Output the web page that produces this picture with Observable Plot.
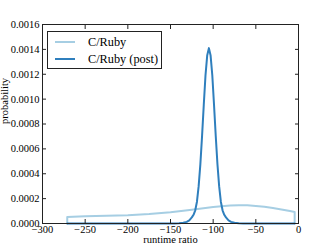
<!DOCTYPE html>
<html>
<head>
<meta charset="utf-8">
<script src="https://cdn.jsdelivr.net/npm/d3@7"></script>
<script src="https://cdn.jsdelivr.net/npm/@observablehq/plot@0.6"></script>
<style>
  html, body { margin: 0; padding: 0; background: #fff; }
  #wrap { position: relative; width: 332px; height: 249px; font-family: "Liberation Serif", "DejaVu Serif", serif; }
  #legend { position: absolute; left: 47px; top: 31px; width: 115px; height: 38px; border: 1px solid #222; background: #fff; box-sizing: border-box; font-size: 12.3px; color: #000; }
  .row { position: absolute; left: 0; height: 14px; display: flex; align-items: center; }
  .sw { position: absolute; left: 7px; width: 20px; height: 2px; }
  .lbl { position: absolute; left: 40px; white-space: nowrap; line-height: 14px; }
</style>
</head>
<body>
<div id="wrap"></div>
<script>
// Tick values
const xTicks = [-300, -250, -200, -150, -100, -50, 0];
const yTicks = [0, 0.0002, 0.0004, 0.0006, 0.0008, 0.0010, 0.0012, 0.0014, 0.0016];

// Series names
const seriesNames = ["C/Ruby", "C/Ruby (post)"];
const seriesColors = ["#a6cee3", "#2f7fbd"];

// C/Ruby (broad) curve
const lightX = [-271, -271, -250, -225, -200, -175, -150, -125, -100, -80, -70, -60, -50, -40, -30, -20, -10, -4.5, -4.5];
const lightY = [0, 0.000053, 0.000058, 0.000062, 0.000067, 0.000076, 0.000090, 0.000110, 0.000132, 0.000145, 0.000147, 0.000146, 0.000141, 0.000134, 0.000124, 0.000113, 0.000100, 0.000093, 0];

// C/Ruby (post) curve
const darkX = [-271, -150, -145, -140, -135, -131, -128, -125, -123, -121, -119, -117, -115, -113, -111, -109, -107, -105, -103, -101, -99, -97, -95, -93, -91, -89, -87, -85, -82, -79, -75, -70, -65, -60, -4.5];
const darkY = [0, 0, 0.0000007, 0.000002, 0.0000056, 0.000013, 0.000025, 0.000049, 0.00007, 0.000106, 0.000175, 0.0003, 0.000478, 0.000705, 0.000955, 0.00119, 0.00135, 0.00141, 0.00135, 0.00119, 0.000955, 0.000705, 0.000478, 0.0003, 0.000175, 0.000106, 0.00007, 0.000049, 0.000025, 0.000013, 0.0000056, 0.000002, 0.0000007, 0, 0];

const lightData = lightX.map((x, i) => ({x, y: lightY[i]}));
const darkData = darkX.map((x, i) => ({x, y: darkY[i]}));

const blank = () => "";
const chart = Plot.plot({
  width: 332,
  height: 249,
  marginLeft: 42,
  marginRight: 34,
  marginTop: 24,
  marginBottom: 26,
  style: {fontFamily: "'Liberation Serif', 'DejaVu Serif', serif", fontSize: "10.5px", background: "#fff", color: "#000", overflow: "visible"},
  x: {domain: [-300, 0]},
  y: {domain: [0, 0.0016]},
  marks: [
    Plot.line(lightData, {x: "x", y: "y", stroke: seriesColors[0], strokeWidth: 2}),
    Plot.line(darkData, {x: "x", y: "y", stroke: seriesColors[1], strokeWidth: 2}),
    Plot.frame({stroke: "#222"}),
    Plot.axisX({anchor: "bottom", ticks: xTicks, tickFormat: d3.format("d"), tickSize: 0, tickPadding: 2, label: null}),
    Plot.axisX({anchor: "bottom", ticks: xTicks, tickFormat: blank, tickSize: -4, label: null, stroke: "#222"}),
    Plot.axisX({anchor: "top", ticks: xTicks, tickFormat: blank, tickSize: -4, label: null, stroke: "#222"}),
    Plot.axisY({anchor: "left", ticks: yTicks, tickFormat: d3.format(".4f"), tickSize: 0, tickPadding: 3, label: null}),
    Plot.axisY({anchor: "left", ticks: yTicks, tickFormat: blank, tickSize: -4, label: null, stroke: "#222"}),
    Plot.axisY({anchor: "right", ticks: yTicks, tickFormat: blank, tickSize: -4, label: null, stroke: "#222"}),
    Plot.text(["runtime ratio"], {frameAnchor: "bottom", lineAnchor: "top", dy: 12, fontSize: 10.5}),
    Plot.text(["probability"], {frameAnchor: "left", rotate: -90, dx: -35, lineAnchor: "bottom", fontSize: 10.5})
  ]
});

const wrap = document.getElementById("wrap");
wrap.appendChild(chart);

// Legend
const legend = document.createElement("div");
legend.id = "legend";
seriesNames.forEach((name, i) => {
  const top = 3 + i * 17;
  const sw = document.createElement("div");
  sw.className = "sw";
  sw.style.top = (top + 6) + "px";
  sw.style.background = seriesColors[i];
  const lbl = document.createElement("div");
  lbl.className = "lbl";
  lbl.style.top = top + "px";
  lbl.textContent = name;
  legend.appendChild(sw);
  legend.appendChild(lbl);
});
wrap.appendChild(legend);
</script>
</body>
</html>
